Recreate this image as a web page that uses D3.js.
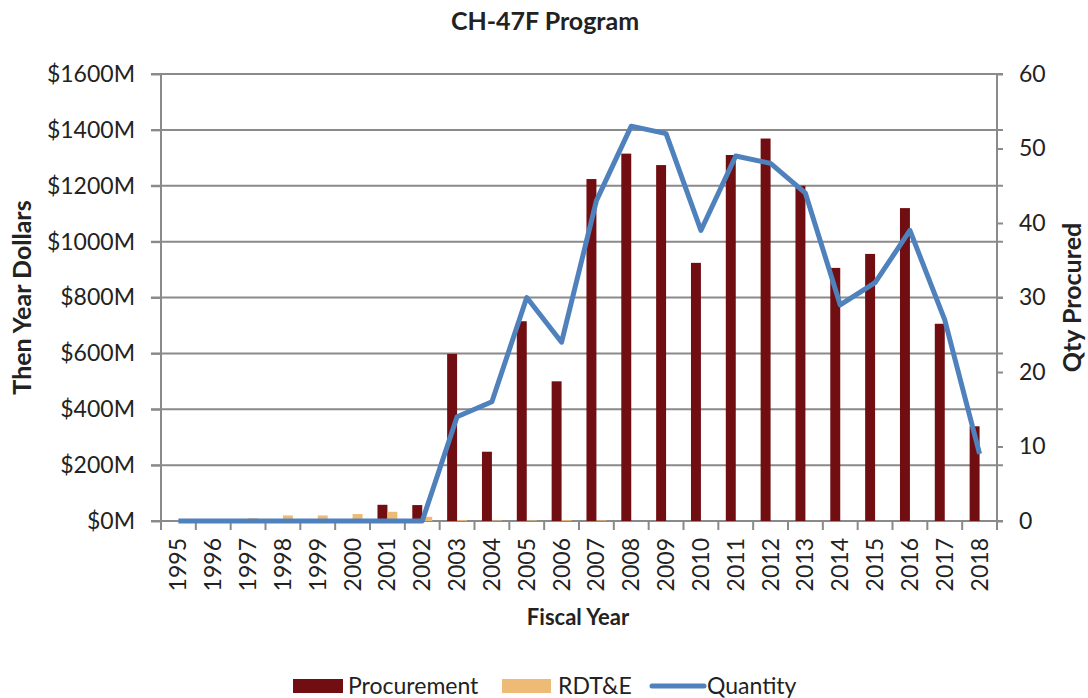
<!DOCTYPE html>
<meta charset="utf-8">
<script src="https://d3js.org/d3.v7.min.js"></script>
<style>
  body { margin: 0; background: #fff; }
  text { font-family: Lato, "Open Sans", sans-serif; fill: #222; }
</style>
<div id="my_dataviz"></div>
<script>

// chart values
var years = ["1995","1996","1997","1998","1999","2000","2001","2002","2003","2004","2005","2006",
             "2007","2008","2009","2010","2011","2012","2013","2014","2015","2016","2017","2018"];
var procurement = [0, 0, 0, 0, 0, 0, 58, 57, 598, 248, 715, 500,
                   1224, 1315, 1274, 924, 1310, 1369, 1200, 906, 956, 1120, 706, 339];
var rdte = [0, 0, 10, 20, 20, 25, 33, 15, 3, 2, 2, 3,
            2, 0, 0, 0, 0, 0, 0, 0, 0, 0, 0, 0];
var quantity = [0, 0, 0, 0, 0, 0, 0, 0, 14, 16, 30, 24,
                43, 53, 52, 39, 49, 48, 44, 29, 32, 39, 27, 9];
var dollarTicks = [0, 200, 400, 600, 800, 1000, 1200, 1400, 1600];
var qtyTicks = [0, 10, 20, 30, 40, 50, 60];

var margin = {top: 74, right: 91, bottom: 177, left: 161},
    width = 1088 - margin.left - margin.right,
    height = 698 - margin.top - margin.bottom;

var svg = d3.select("#my_dataviz")
  .append("svg")
    .attr("width", 1088)
    .attr("height", 698);

var g = svg.append("g")
    .attr("transform", "translate(" + margin.left + "," + margin.top + ")");

// scales
var x = d3.scaleBand().domain(years).range([0, width]).padding(0);
var sub = d3.scaleBand().domain(["proc", "rdte"]).range([0, x.bandwidth()]).paddingOuter(0.75).paddingInner(0);
var y = d3.scaleLinear().domain([0, 1600]).range([height, 0]);
var y2 = d3.scaleLinear().domain([0, 60]).range([height, 0]);

var gridColor = "#8a8a8a";

// gridlines
g.append("g")
  .selectAll("line")
  .data(dollarTicks)
  .enter().append("line")
    .attr("x1", -10).attr("x2", width + 6)
    .attr("y1", function(d) { return y(d); })
    .attr("y2", function(d) { return y(d); })
    .attr("stroke", gridColor)
    .attr("stroke-width", 2);

// left axis
var leftAxis = g.append("g")
  .call(d3.axisLeft(y).tickValues(dollarTicks).tickSize(10).tickPadding(16)
    .tickFormat(function(d) { return "$" + d + "M"; }));
leftAxis.selectAll("text").style("font-size", "23px");
leftAxis.select(".domain").remove();
leftAxis.selectAll(".tick line").attr("stroke", gridColor).attr("stroke-width", 2);
g.append("line")
  .attr("x1", 0).attr("x2", 0).attr("y1", 0).attr("y2", height)
  .attr("stroke", gridColor).attr("stroke-width", 2);

// right axis
var rightAxis = g.append("g")
  .attr("transform", "translate(" + width + ",0)")
  .call(d3.axisRight(y2).tickValues(qtyTicks).tickSize(6).tickPadding(16));
rightAxis.selectAll("text").style("font-size", "23px");
rightAxis.select(".domain").remove();
rightAxis.selectAll(".tick line").attr("stroke", gridColor).attr("stroke-width", 2);
g.append("line")
  .attr("x1", width).attr("x2", width).attr("y1", 0).attr("y2", height)
  .attr("stroke", gridColor).attr("stroke-width", 2);

// bottom axis: ticks between categories
var bottom = g.append("g").attr("transform", "translate(0," + height + ")");
bottom.selectAll("line.tk")
  .data(years.concat(["end"]))
  .enter().append("line")
    .attr("class", "tk")
    .attr("x1", function(d, i) { return i * x.step(); })
    .attr("x2", function(d, i) { return i * x.step(); })
    .attr("y1", 0).attr("y2", 9)
    .attr("stroke", gridColor).attr("stroke-width", 2);
bottom.selectAll("text.yr")
  .data(years)
  .enter().append("text")
    .attr("class", "yr")
    .attr("transform", function(d) {
      return "translate(" + (x(d) + x.bandwidth() / 2) + ",17) rotate(-90)";
    })
    .attr("text-anchor", "end")
    .attr("dy", "0.35em")
    .style("font-size", "23px")
    .text(function(d) { return d; });

// bars
var groups = g.append("g")
  .selectAll("g")
  .data(years)
  .enter().append("g")
    .attr("transform", function(d) { return "translate(" + x(d) + ",0)"; });

groups.append("rect")
  .attr("x", sub("proc"))
  .attr("width", sub.bandwidth())
  .attr("y", function(d, i) { return y(procurement[i]); })
  .attr("height", function(d, i) { return height - y(procurement[i]); })
  .attr("fill", "#700e12");

groups.append("rect")
  .attr("x", sub("rdte"))
  .attr("width", sub.bandwidth())
  .attr("y", function(d, i) { return y(rdte[i]); })
  .attr("height", function(d, i) { return height - y(rdte[i]); })
  .attr("fill", "#eebb77");

// quantity line
g.append("path")
  .datum(quantity)
  .attr("fill", "none")
  .attr("stroke", "#4f81bd")
  .attr("stroke-width", 5)
  .attr("stroke-linejoin", "round")
  .attr("d", d3.line()
    .x(function(d, i) { return x(years[i]) + x.bandwidth() / 2; })
    .y(function(d) { return y2(d); }));

// titles
svg.append("text")
  .attr("x", 545).attr("y", 30)
  .attr("text-anchor", "middle")
  .style("font-size", "25px").style("font-weight", "bold")
  .text("CH-47F Program");

svg.append("text")
  .attr("transform", "translate(31," + (margin.top + height / 2) + ") rotate(-90)")
  .attr("text-anchor", "middle")
  .style("font-size", "25px").style("font-weight", "bold")
  .text("Then Year Dollars");

svg.append("text")
  .attr("transform", "translate(1081," + (margin.top + height / 2) + ") rotate(-90)")
  .attr("text-anchor", "middle")
  .style("font-size", "25px").style("font-weight", "bold")
  .text("Qty Procured");

svg.append("text")
  .attr("x", 578).attr("y", 625)
  .attr("text-anchor", "middle")
  .style("font-size", "22px").style("font-weight", "bold")
  .text("Fiscal Year");

// legend
var legend = svg.append("g").attr("transform", "translate(0,686)");
legend.append("rect").attr("x", 293).attr("y", -7).attr("width", 50).attr("height", 14).attr("fill", "#700e12");
legend.append("text").attr("x", 348).attr("dy", "0.35em").style("font-size", "23px").text("Procurement");
legend.append("rect").attr("x", 502).attr("y", -7).attr("width", 49).attr("height", 14).attr("fill", "#eebb77");
legend.append("text").attr("x", 558).attr("dy", "0.35em").style("font-size", "23px").text("RDT&E");
legend.append("line").attr("x1", 652).attr("x2", 704).attr("y1", 0).attr("y2", 0)
  .attr("stroke", "#4f81bd").attr("stroke-width", 5).attr("stroke-linecap", "round");
legend.append("text").attr("x", 707).attr("dy", "0.35em").style("font-size", "23px").text("Quantity");

</script>
